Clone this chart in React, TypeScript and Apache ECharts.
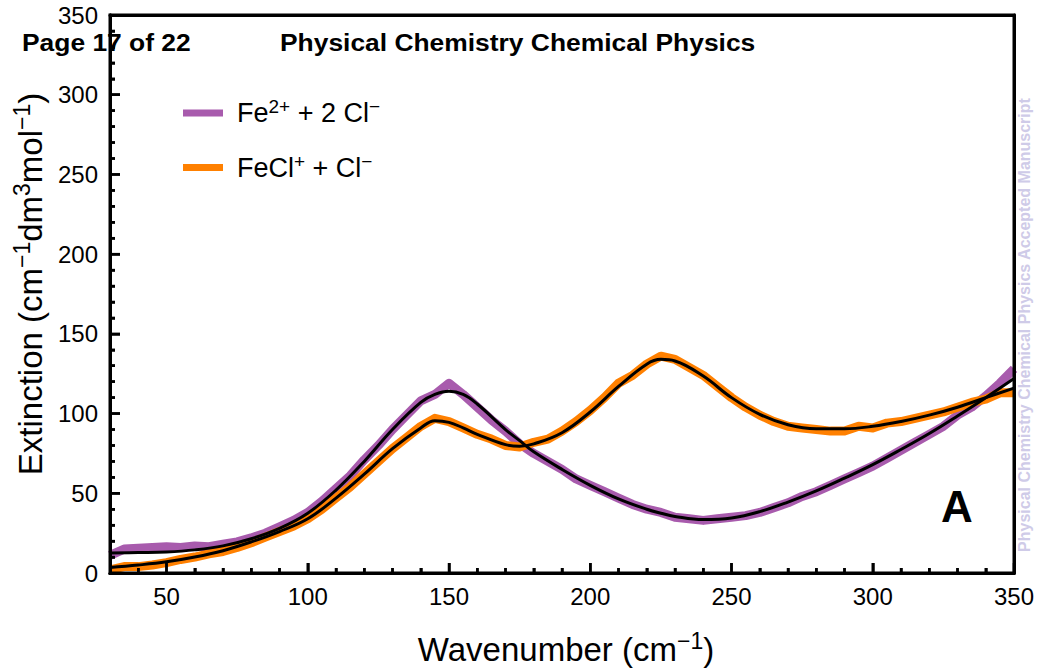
import React, { useEffect, useRef } from "react";
import * as echarts from "echarts";

// Measured spectra (wavenumber step 5 cm^-1)
const wavenumbers = [30,35,40,45,50,55,60,65,70,75,80,85,90,95,100,105,110,115,120,125,130,135,140,145,150,155,160,165,170,175,180,185,190,195,200,205,210,215,220,225,230,235,240,245,250,255,260,265,270,275,280,285,290,295,300,305,310,315,320,325,330,335,340,345,350];
const fe2Measured = [11,15,15.5,16,16.5,16,17,16.5,18,19.5,22,25,29,33,38,45,53,61,71,80,90,99,108,112,119,112,104,96,89,81,75,70,65,59,55,51,47,43,40,38,35,34,33,34,35,36,38,41,44,48,51,55,59,63,67,72,77,82,87,92,99,104,111,119,128];
const feclMeasured = [2,4,4,5,6.5,8.5,10,12,13.5,16,19,22.5,26,29.5,34,40,47,54,62,70,78,85,92,97,95,91,87,84,80,79,82,84,89,95,102,110,119,124,131,136,134,129,124,117,110,104,99,95,92,91,90,89,89,92,91,94,95,97,99,101,104,107,109,113,113];

// Fitted curves
const fitWavenumbers = [30,40,50,60,70,80,90,100,110,120,130,140,145,150,155,160,170,175,180,190,200,210,220,225,230,240,250,260,270,280,290,300,310,320,330,340,350];
const fe2Fit = [12.5,12.8,13.2,14.5,17,21.5,28,37.5,52,70,90,107,112,114,112,106,90,83,76,65,55,46.5,40,37.5,35.5,33.5,34.5,38.5,44.5,51.5,59.5,68,77.5,87.5,98.5,110,122];
const feclFit = [3.5,5,7,10,14,19.5,26,34,47,62,78,91,95.5,94.5,91,87,80.5,79.5,81,88,101,117,131,134,133,123.5,110,99.5,93,90.5,90.5,92,95,99,104,110,116];

// Axis ranges and ticks
const xRange = [30, 350];
const yRange = [0, 350];
const xMajorTicks = [50,100,150,200,250,300,350];
const xMinorTicks = [40,60,70,80,90,110,120,130,140,160,170,180,190,210,220,230,240,260,270,280,290,310,320,330,340];
const yMajorTicks = [50,100,150,200,250,300];
const yMinorTicks = [10,20,30,40,60,70,80,90,110,120,130,140,160,170,180,190,210,220,230,240,260,270,280,290,310,320,330,340];

const seriesNames = ["Fe2+ + 2 Cl−", "FeCl+ + Cl−"];
const legendRich: Record<string, string> = {
  "Fe2+ + 2 Cl−": "{n|Fe}{s|2+}{n| + 2 Cl}{s|−}",
  "FeCl+ + Cl−": "{n|FeCl}{s|+}{n| + Cl}{s|−}",
};

const FONT = "'Liberation Sans', Arial, Helvetica, sans-serif";
const GRID = { left: 110, right: 23, top: 15, bottom: 97, outerBoundsMode: "none", show: false };

export default function App() {
  const ref = useRef<HTMLDivElement>(null);
  const frameRef = useRef<HTMLDivElement>(null);
  useEffect(() => {
    if (!ref.current || !frameRef.current) return;
    const chart = echarts.init(ref.current, undefined, { renderer: "svg" });
    const frame = echarts.init(frameRef.current, undefined, { renderer: "svg" });
    const pair = (xs: number[], ys: number[]) => xs.map((x, i) => [x, ys[i]]);
    const richSup = {
      n: { fontSize: 33, lineHeight: 40, fontFamily: FONT, color: "#000" },
      s: { fontSize: 23, lineHeight: 23, fontFamily: FONT, color: "#000", verticalAlign: "top" },
    };
    const legendRichStyle = {
      n: { fontSize: 27, lineHeight: 32, fontFamily: FONT, color: "#000" },
      s: { fontSize: 19, lineHeight: 19, fontFamily: FONT, color: "#000", verticalAlign: "top" },
    };
    const frameRender = (_params: any, api: any) => {
      const tl = api.coord([xRange[0], yRange[1]]);
      const br = api.coord([xRange[1], yRange[0]]);
      const stroke = { stroke: "#000", lineWidth: 2.5 };
      const children: any[] = [
        {
          type: "rect",
          shape: { x: tl[0], y: tl[1], width: br[0] - tl[0], height: br[1] - tl[1] },
          style: { fill: "none", stroke: "#000", lineWidth: 3 },
        },
      ];
      xMajorTicks.forEach((v) => {
        const p = api.coord([v, yRange[0]]);
        children.push({ type: "line", shape: { x1: p[0], y1: p[1], x2: p[0], y2: p[1] - 10 }, style: stroke });
      });
      xMinorTicks.forEach((v) => {
        const p = api.coord([v, yRange[0]]);
        children.push({ type: "line", shape: { x1: p[0], y1: p[1], x2: p[0], y2: p[1] - 5 }, style: stroke });
      });
      yMajorTicks.forEach((v) => {
        const p = api.coord([xRange[0], v]);
        children.push({ type: "line", shape: { x1: p[0], y1: p[1], x2: p[0] + 10, y2: p[1] }, style: stroke });
      });
      yMinorTicks.forEach((v) => {
        const p = api.coord([xRange[0], v]);
        children.push({ type: "line", shape: { x1: p[0], y1: p[1], x2: p[0] + 5, y2: p[1] }, style: stroke });
      });
      return { type: "group", children };
    };

    // Main chart: data, labels, names, legend, annotations
    chart.setOption({
      animation: false,
      backgroundColor: "#fff",
      grid: GRID,
      legend: {
        data: seriesNames,
        orient: "vertical",
        left: 178,
        top: 92,
        icon: "rect",
        itemWidth: 40,
        itemHeight: 7,
        itemGap: 25,
        formatter: (name: string) => legendRich[name] || name,
        textStyle: { fontSize: 27, color: "#000", fontFamily: FONT, rich: legendRichStyle, padding: [0, 0, 0, 9] },
      },
      xAxis: {
        type: "value", min: xRange[0], max: xRange[1], position: "bottom",
        name: "{n|Wavenumber (cm}{s|−1}{n|)}",
        nameLocation: "middle",
        nameGap: 56,
        nameTextStyle: { rich: richSup, padding: [0, 0, 0, 8] },
        axisLine: { show: true, onZero: false, lineStyle: { color: "#000", width: 3 } },
        axisTick: { show: false },
        axisLabel: { show: true, customValues: xMajorTicks, fontSize: 24, fontFamily: FONT, color: "#000", margin: 11 },
        splitLine: { show: false },
      },
      yAxis: {
        type: "value", min: yRange[0], max: yRange[1], interval: 50, position: "left",
        name: "{n|Extinction (cm}{s|−1}{n|dm}{s|3}{n|mol}{s|−1}{n|)}",
        nameLocation: "middle",
        nameGap: 58,
        nameTextStyle: { rich: richSup, padding: [0, 0, 0, 20] },
        axisLine: { show: true, onZero: false, lineStyle: { color: "#000", width: 3 } },
        axisTick: { show: false },
        minorTick: { show: false },
        axisLabel: { show: true, fontSize: 24, fontFamily: FONT, color: "#000", margin: 12 },
        splitLine: { show: false },
      },
      series: [
        {
          name: seriesNames[0], type: "line", data: pair(wavenumbers, fe2Measured), showSymbol: false,
          color: "#a85bad", lineStyle: { width: 9, color: "#a85bad", join: "round" }, z: 2,
        },
        {
          name: seriesNames[1], type: "line", data: pair(wavenumbers, feclMeasured), showSymbol: false,
          color: "#ff8000", lineStyle: { width: 9, color: "#ff8000", join: "round" }, z: 2,
        },
        {
          name: "Fe2+ fit", type: "line", data: pair(fitWavenumbers, fe2Fit), showSymbol: false,
          smooth: 0.4, lineStyle: { width: 3, color: "#000" }, z: 3,
        },
        {
          name: "FeCl+ fit", type: "line", data: pair(fitWavenumbers, feclFit), showSymbol: false,
          smooth: 0.4, lineStyle: { width: 3, color: "#000" }, z: 3,
        },
        {
          name: "frame", type: "custom", data: [[xRange[0], yRange[0]]], renderItem: frameRender,
          clip: false, silent: true, z: 4,
        },
      ],
      graphic: [
        {
          type: "text", x: 22, y: 42, z: 10, scaleX: 1.1,
          style: { text: "Page 17 of 22", font: `bold 24px ${FONT}`, fill: "#000", textVerticalAlign: "middle" },
        },
        {
          type: "text", x: 280, y: 42, z: 10, scaleX: 1.1,
          style: { text: "Physical Chemistry Chemical Physics", font: `bold 24px ${FONT}`, fill: "#000", textVerticalAlign: "middle" },
        },
        {
          type: "text", x: 957, y: 506, z: 10,
          style: { text: "A", font: `bold 44px ${FONT}`, fill: "#000", textAlign: "center", textVerticalAlign: "middle" },
        },
        {
          type: "text", x: 1024, y: 325, rotation: Math.PI / 2, z: 10,
          style: {
            text: "Physical Chemistry Chemical Physics Accepted Manuscript",
            font: `bold 16px ${FONT}`, fill: "#cfcbe8", textAlign: "center", textVerticalAlign: "middle",
          },
        },
      ],
    });

    // Overlay chart: the frame and the inward ticks, on the same grid and scales
    const tickStyle = { color: "#000", width: 2.5 };
    frame.setOption({
      animation: false,
      backgroundColor: "transparent",
      grid: GRID,
      xAxis: [
        {
          type: "value", min: xRange[0], max: xRange[1], position: "bottom",
          axisLine: { show: true, onZero: false, lineStyle: { color: "#000", width: 3 } },
          axisTick: { show: true, inside: true, length: 10, customValues: xMajorTicks, lineStyle: tickStyle },
          axisLabel: { show: false },
          splitLine: { show: false },
        },
        {
          type: "value", min: xRange[0], max: xRange[1], position: "bottom",
          axisLine: { show: false, onZero: false },
          axisTick: { show: true, inside: true, length: 5, customValues: xMinorTicks, lineStyle: tickStyle },
          axisLabel: { show: false },
          splitLine: { show: false },
        },
        {
          type: "value", min: xRange[0], max: xRange[1], position: "top",
          axisLine: { show: true, onZero: false, lineStyle: { color: "#000", width: 3 } },
          axisTick: { show: false }, axisLabel: { show: false }, splitLine: { show: false },
        },
      ],
      yAxis: [
        {
          type: "value", min: yRange[0], max: yRange[1], interval: 50, position: "left",
          axisLine: { show: true, onZero: false, lineStyle: { color: "#000", width: 3 } },
          axisTick: { show: true, inside: true, length: 10, lineStyle: tickStyle },
          minorTick: { show: true, splitNumber: 5, length: 5, lineStyle: tickStyle },
          axisLabel: { show: false },
          splitLine: { show: false },
        },
        {
          type: "value", min: yRange[0], max: yRange[1], interval: 50, position: "right",
          axisLine: { show: true, onZero: false, lineStyle: { color: "#000", width: 3 } },
          axisTick: { show: false }, axisLabel: { show: false }, splitLine: { show: false },
        },
      ],
      series: [{ type: "line", data: [], showSymbol: false }],
    });
    return () => {
      chart.dispose();
      frame.dispose();
    };
  }, []);
  return (
    <div style={{ position: "fixed", left: 0, top: 0, width: 1037, height: 670, background: "#fff" }}>
      <div ref={ref} style={{ position: "absolute", left: 0, top: 0, width: 1037, height: 670 }} />
      <div
        ref={frameRef}
        style={{ position: "absolute", left: 0, top: 0, width: 1037, height: 670, zIndex: 1, pointerEvents: "none" }}
      />
    </div>
  );
}
